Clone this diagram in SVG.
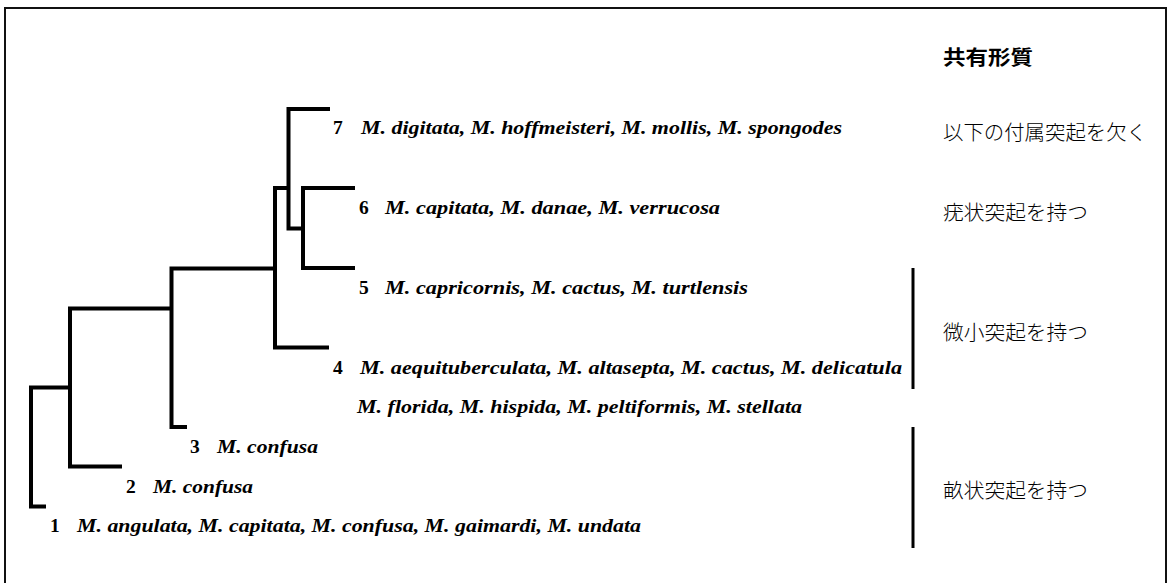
<svg xmlns="http://www.w3.org/2000/svg" width="1170" height="583" viewBox="0 0 1170 583">
<style>
.num{font-family:"Liberation Serif","Times New Roman",serif;font-weight:bold;font-size:19.5px;fill:#000}
.sp{font-family:"Liberation Serif","Times New Roman",serif;font-weight:bold;font-style:italic;font-size:19.5px;fill:#000}
.jp{font-family:"Noto Sans CJK JP","Noto Sans CJK SC",sans-serif;font-size:20px;font-weight:300;fill:#000}
.jph{font-family:"Noto Sans CJK JP","Noto Sans CJK SC",sans-serif;font-size:20px;font-weight:bold;fill:#000}
.tree{fill:none;stroke:#000;stroke-width:4;stroke-linejoin:miter}
.bar{stroke:#000;stroke-width:3}
</style>
<rect x="0" y="0" width="1170" height="583" fill="#fff"/>
<rect x="5" y="8" width="1161" height="600" fill="none" stroke="#111" stroke-width="2"/>

<g id="connectors">
<polyline class="tree" points="330,109 288.5,109 288.5,228.5 303,228.5"/>
<polyline class="tree" points="355,188 303,188 303,268 355,268"/>
<polyline class="tree" points="288.5,188 275,188 275,347.5 329,347.5"/>
<polyline class="tree" points="275,268.5 171.5,268.5 171.5,427 187,427"/>
<polyline class="tree" points="171.5,308.5 70,308.5 70,466.5 122,466.5"/>
<polyline class="tree" points="70,387.5 31,387.5 31,506.5 46,506.5"/>
</g>

<g id="node7">
<text class="num" x="333" y="134">7</text>
<text class="sp" x="361" y="134" textLength="481" lengthAdjust="spacingAndGlyphs">M. digitata, M. hoffmeisteri, M. mollis, M. spongodes</text>
</g>
<g id="node6">
<text class="num" x="359" y="214">6</text>
<text class="sp" x="385" y="214" textLength="335" lengthAdjust="spacingAndGlyphs">M. capitata, M. danae, M. verrucosa</text>
</g>
<g id="node5">
<text class="num" x="359" y="294">5</text>
<text class="sp" x="385" y="294" textLength="363" lengthAdjust="spacingAndGlyphs">M. capricornis, M. cactus, M. turtlensis</text>
</g>
<g id="node4">
<text class="num" x="333" y="374">4</text>
<text class="sp" x="360" y="374" textLength="542" lengthAdjust="spacingAndGlyphs">M. aequituberculata, M. altasepta, M. cactus, M. delicatula</text>
<text class="sp" x="357" y="413" textLength="445" lengthAdjust="spacingAndGlyphs">M. florida, M. hispida, M. peltiformis, M. stellata</text>
</g>
<g id="node3">
<text class="num" x="190" y="453">3</text>
<text class="sp" x="217" y="453" textLength="101" lengthAdjust="spacingAndGlyphs">M. confusa</text>
</g>
<g id="node2">
<text class="num" x="126" y="493">2</text>
<text class="sp" x="153" y="493" textLength="100" lengthAdjust="spacingAndGlyphs">M. confusa</text>
</g>
<g id="node1">
<text class="num" x="50" y="532">1</text>
<text class="sp" x="77" y="532" textLength="564" lengthAdjust="spacingAndGlyphs">M. angulata, M. capitata, M. confusa, M. gaimardi, M. undata</text>
</g>

<g id="characters">
<text class="jph" x="943" y="65" textLength="90" lengthAdjust="spacingAndGlyphs">共有形質</text>
<text class="jp" x="943" y="140" textLength="204" lengthAdjust="spacingAndGlyphs">以下の付属突起を欠く</text>
<text class="jp" x="943" y="220" textLength="145" lengthAdjust="spacingAndGlyphs">疣状突起を持つ</text>
<text class="jp" x="943" y="340" textLength="145" lengthAdjust="spacingAndGlyphs">微小突起を持つ</text>
<text class="jp" x="943" y="498" textLength="145" lengthAdjust="spacingAndGlyphs">畝状突起を持つ</text>
<line class="bar" x1="913" y1="268" x2="913" y2="389"/>
<line class="bar" x1="913" y1="427" x2="913" y2="548"/>
</g>
</svg>
